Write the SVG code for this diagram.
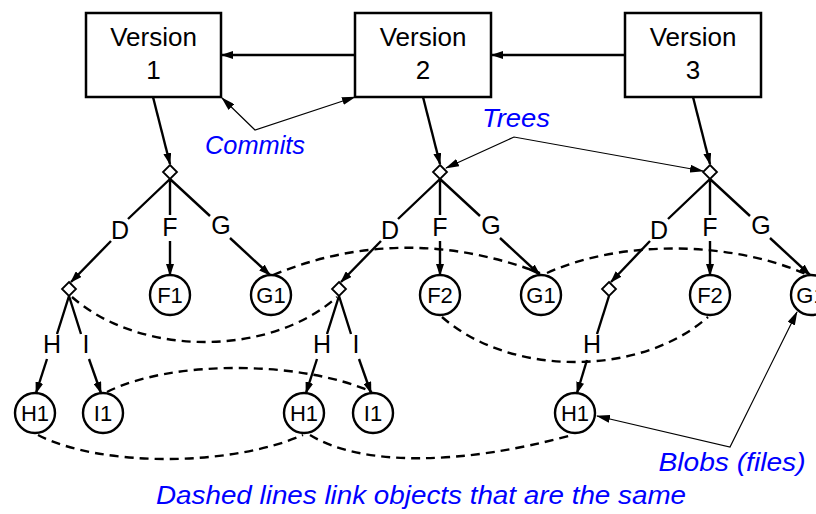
<svg xmlns="http://www.w3.org/2000/svg" width="816" height="514" viewBox="0 0 816 514">
<defs>
<marker id="ah" viewBox="0 0 12 8" refX="11" refY="4" markerWidth="12" markerHeight="8" markerUnits="userSpaceOnUse" orient="auto-start-reverse"><path d="M0,0 L12,4 L0,8 z" fill="#000"/></marker>
<marker id="ahs" viewBox="0 0 14 8" refX="13" refY="4" markerWidth="14" markerHeight="8" markerUnits="userSpaceOnUse" orient="auto-start-reverse"><path d="M0,0 L14,4 L0,8 z" fill="#000"/></marker>
</defs>
<style>
.box{fill:#fff;stroke:#000;stroke-width:2.5}
.t{font-family:"Liberation Sans",Arial,sans-serif;fill:#000;text-anchor:middle}
.big{font-size:26px}
.lbl{font-size:25px}
.cl{font-size:22px}
.blue{font-family:"Liberation Sans",Arial,sans-serif;fill:#0000ff;font-style:italic;text-anchor:middle}
.e{fill:none;stroke:#000;stroke-width:2.4}
.a{fill:none;stroke:#000;stroke-width:2.4;marker-end:url(#ah)}
.thin{fill:none;stroke:#000;stroke-width:1.2;marker-start:url(#ahs);marker-end:url(#ahs)}
.d{fill:none;stroke:#000;stroke-width:2.4;stroke-dasharray:9 6}
.dm{fill:#fff;stroke:#000;stroke-width:1.8}
.c{fill:#fff;stroke:#000;stroke-width:2.4}
</style>
<rect width="816" height="514" fill="#fff"/>

<g id="connectors">
<line class="a" x1="355" y1="55" x2="222" y2="55"/>
<line class="a" x1="625" y1="55" x2="492" y2="55"/>
<line class="a" x1="153" y1="97" x2="170" y2="164"/>
<line class="a" x1="423" y1="97" x2="440" y2="164"/>
<line class="a" x1="693" y1="97" x2="710" y2="164"/>
<path class="e" d="M170,179 L128,219 M170,179 L170,215 M170,179 L210,216"/>
<path class="e" d="M440,179 L398,219 M440,179 L440,215 M440,179 L480,216"/>
<path class="e" d="M710,179 L668,219 M710,179 L710,215 M710,179 L750,216"/>
<line class="a" x1="111" y1="241" x2="71" y2="282"/>
<line class="a" x1="170" y1="241" x2="170" y2="275"/>
<line class="a" x1="230" y1="238" x2="270" y2="275"/>
<line class="a" x1="381" y1="241" x2="341" y2="282"/>
<line class="a" x1="440" y1="241" x2="440" y2="275"/>
<line class="a" x1="500" y1="238" x2="540" y2="275"/>
<line class="a" x1="650" y1="241" x2="611" y2="282"/>
<line class="a" x1="710" y1="241" x2="710" y2="275"/>
<line class="a" x1="770" y1="238" x2="810" y2="275"/>
<path class="e" d="M69,296 L57,334 M69,296 L81,334"/>
<path class="e" d="M339,296 L327,334 M339,296 L351,334"/>
<path class="e" d="M609,296 L597,334"/>
<line class="a" x1="47" y1="359" x2="36" y2="393"/>
<line class="a" x1="89" y1="359" x2="101" y2="393"/>
<line class="a" x1="317" y1="359" x2="306" y2="393"/>
<line class="a" x1="359" y1="359" x2="371" y2="393"/>
<line class="a" x1="587" y1="360" x2="577" y2="393"/>
<path class="d" d="M273,275 C360,239 450,239 540,273"/>
<path class="d" d="M547,273 C620,240 730,240 808,275"/>
<path class="d" d="M72,297 C140,357 270,357 337,297"/>
<path class="d" d="M442,317 C510,377 640,377 708,317"/>
<path class="d" d="M107,392 C170,360 300,360 372,392"/>
<path class="d" d="M38,435 C100,467 230,467 303,435"/>
<path class="d" d="M310,435 C360,466 460,466 572,435"/>
<path class="thin" d="M222,98 L255,130 L355,97"/>
<path class="thin" d="M446,168 L514,137 L703,171"/>
<path class="thin" d="M597,416 L730,447 L797,312"/>
</g>

<g id="version1"><rect class="box" x="86" y="13" width="135" height="84"/><text class="t big" x="153.5" y="46">Version</text><text class="t big" x="153.5" y="79">1</text></g>
<g id="version2"><rect class="box" x="355" y="13" width="136" height="84"/><text class="t big" x="423" y="46">Version</text><text class="t big" x="423" y="79">2</text></g>
<g id="version3"><rect class="box" x="625" y="13" width="136" height="84"/><text class="t big" x="693" y="46">Version</text><text class="t big" x="693" y="79">3</text></g>

<g id="tree1"><path class="dm" d="M170,165 L177,172 L170,179 L163,172 z"/></g>
<g id="tree2"><path class="dm" d="M440,165 L447,172 L440,179 L433,172 z"/></g>
<g id="tree3"><path class="dm" d="M710,165 L717,172 L710,179 L703,172 z"/></g>

<g id="labels-tree1"><text class="t lbl" x="120" y="239">D</text><text class="t lbl" x="170" y="236">F</text><text class="t lbl" x="221" y="234">G</text></g>
<g id="labels-tree2"><text class="t lbl" x="390" y="239">D</text><text class="t lbl" x="440" y="236">F</text><text class="t lbl" x="491" y="234">G</text></g>
<g id="labels-tree3"><text class="t lbl" x="659" y="239">D</text><text class="t lbl" x="710" y="236">F</text><text class="t lbl" x="761" y="234">G</text></g>

<g id="subtree1"><path class="dm" d="M69,282 L76,289 L69,296 L62,289 z"/><text class="t lbl" x="52" y="353">H</text><text class="t lbl" x="86" y="353">I</text></g>
<g id="subtree2"><path class="dm" d="M339,282 L346,289 L339,296 L332,289 z"/><text class="t lbl" x="322" y="353">H</text><text class="t lbl" x="356" y="353">I</text></g>
<g id="subtree3"><path class="dm" d="M609,282 L616,289 L609,296 L602,289 z"/><text class="t lbl" x="592" y="353">H</text></g>

<g id="F1"><circle class="c" cx="170" cy="295" r="20"/><text class="t cl" x="170" y="303">F1</text></g>
<g id="G1a"><circle class="c" cx="271" cy="295" r="20"/><text class="t cl" x="271" y="303">G1</text></g>
<g id="F2a"><circle class="c" cx="440" cy="295" r="20"/><text class="t cl" x="440" y="303">F2</text></g>
<g id="G1b"><circle class="c" cx="541" cy="295" r="20"/><text class="t cl" x="541" y="303">G1</text></g>
<g id="F2b"><circle class="c" cx="710" cy="295" r="20"/><text class="t cl" x="710" y="303">F2</text></g>
<g id="G1c"><circle class="c" cx="811" cy="295" r="20"/><text class="t cl" x="811" y="303">G1</text></g>
<g id="H1a"><circle class="c" cx="35" cy="413" r="20"/><text class="t cl" x="35" y="421">H1</text></g>
<g id="I1a"><circle class="c" cx="103" cy="413" r="20"/><text class="t cl" x="103" y="421">I1</text></g>
<g id="H1b"><circle class="c" cx="304" cy="413" r="20"/><text class="t cl" x="304" y="421">H1</text></g>
<g id="I1b"><circle class="c" cx="373" cy="413" r="20"/><text class="t cl" x="373" y="421">I1</text></g>
<g id="H1c"><circle class="c" cx="575" cy="413" r="20"/><text class="t cl" x="575" y="421">H1</text></g>

<g id="annotations">
<text class="blue" x="255" y="154" font-size="25" textLength="100" lengthAdjust="spacingAndGlyphs">Commits</text>
<text class="blue" x="516" y="127" font-size="25" textLength="68" lengthAdjust="spacingAndGlyphs">Trees</text>
<text class="blue" x="732" y="471" font-size="25" textLength="147" lengthAdjust="spacingAndGlyphs">Blobs (files)</text>
<text class="blue" x="421" y="504" font-size="26" textLength="530" lengthAdjust="spacingAndGlyphs">Dashed lines link objects that are the same</text>
</g>
</svg>
